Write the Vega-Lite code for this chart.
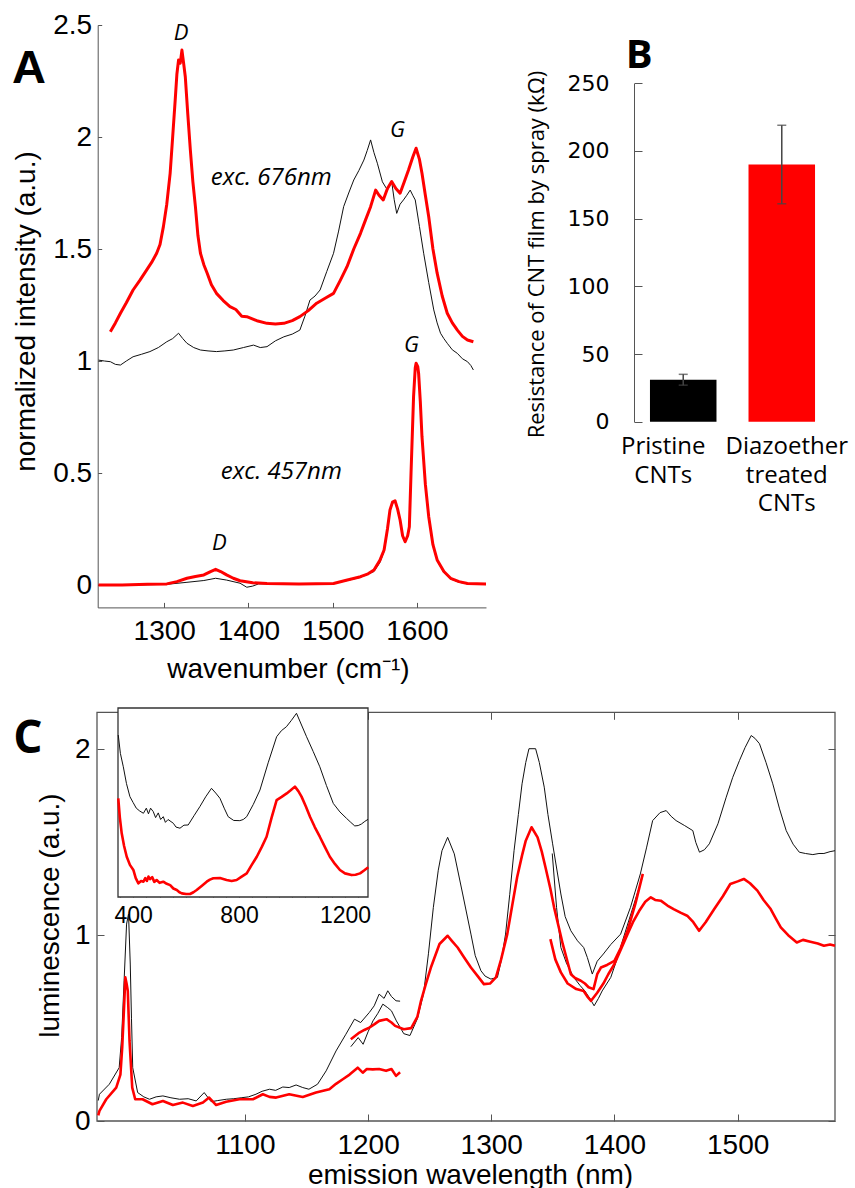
{
  "$schema": "https://vega.github.io/schema/vega-lite/v6.json",
  "width": 855,
  "height": 1188,
  "autosize": {"type": "none"},
  "padding": 0,
  "background": "white",
  "config": {
    "view": {"stroke": null},
    "axis": {"grid": false, "domainColor": "#555", "tickColor": "#555", "labelColor": "#000", "titleColor": "#000", "titleFontWeight": "normal", "labelFont": "Liberation Sans", "titleFont": "Liberation Sans", "labelOverlap": false, "labelFlush": false, "labelBound": false}
  },
  "datasets": {
    "ramanA": [
      {"wn":1236,"I":1.131,"c":"r","g":"676r"},{"wn":1242,"I":1.17,"c":"r","g":"676r"},{"wn":1248,"I":1.213,"c":"r","g":"676r"},{"wn":1255,"I":1.26,"c":"r","g":"676r"},{"wn":1263,"I":1.317,"c":"r","g":"676r"},{"wn":1271,"I":1.36,"c":"r","g":"676r"},{"wn":1279,"I":1.406,"c":"r","g":"676r"},{"wn":1285,"I":1.44,"c":"r","g":"676r"},{"wn":1291,"I":1.481,"c":"r","g":"676r"},{"wn":1295,"I":1.52,"c":"r","g":"676r"},{"wn":1299,"I":1.6,"c":"r","g":"676r"},{"wn":1303,"I":1.7,"c":"r","g":"676r"},{"wn":1307,"I":1.838,"c":"r","g":"676r"},{"wn":1310,"I":2.0,"c":"r","g":"676r"},{"wn":1313,"I":2.165,"c":"r","g":"676r"},{"wn":1315,"I":2.28,"c":"r","g":"676r"},{"wn":1317,"I":2.344,"c":"r","g":"676r"},{"wn":1319,"I":2.33,"c":"r","g":"676r"},{"wn":1321,"I":2.388,"c":"r","g":"676r"},{"wn":1323,"I":2.33,"c":"r","g":"676r"},{"wn":1325,"I":2.269,"c":"r","g":"676r"},{"wn":1328,"I":2.1,"c":"r","g":"676r"},{"wn":1331,"I":1.942,"c":"r","g":"676r"},{"wn":1334,"I":1.8,"c":"r","g":"676r"},{"wn":1337,"I":1.689,"c":"r","g":"676r"},{"wn":1340,"I":1.56,"c":"r","g":"676r"},{"wn":1343,"I":1.481,"c":"r","g":"676r"},{"wn":1347,"I":1.43,"c":"r","g":"676r"},{"wn":1351,"I":1.392,"c":"r","g":"676r"},{"wn":1356,"I":1.34,"c":"r","g":"676r"},{"wn":1362,"I":1.302,"c":"r","g":"676r"},{"wn":1370,"I":1.27,"c":"r","g":"676r"},{"wn":1378,"I":1.243,"c":"r","g":"676r"},{"wn":1385,"I":1.23,"c":"r","g":"676r"},{"wn":1392,"I":1.2,"c":"r","g":"676r"},{"wn":1398,"I":1.198,"c":"r","g":"676r"},{"wn":1410,"I":1.18,"c":"r","g":"676r"},{"wn":1422,"I":1.168,"c":"r","g":"676r"},{"wn":1432,"I":1.165,"c":"r","g":"676r"},{"wn":1442,"I":1.168,"c":"r","g":"676r"},{"wn":1452,"I":1.18,"c":"r","g":"676r"},{"wn":1461,"I":1.198,"c":"r","g":"676r"},{"wn":1471,"I":1.225,"c":"r","g":"676r"},{"wn":1481,"I":1.258,"c":"r","g":"676r"},{"wn":1491,"I":1.28,"c":"r","g":"676r"},{"wn":1501,"I":1.302,"c":"r","g":"676r"},{"wn":1509,"I":1.36,"c":"r","g":"676r"},{"wn":1517,"I":1.421,"c":"r","g":"676r"},{"wn":1525,"I":1.5,"c":"r","g":"676r"},{"wn":1533,"I":1.57,"c":"r","g":"676r"},{"wn":1539,"I":1.63,"c":"r","g":"676r"},{"wn":1545,"I":1.689,"c":"r","g":"676r"},{"wn":1551,"I":1.763,"c":"r","g":"676r"},{"wn":1555,"I":1.74,"c":"r","g":"676r"},{"wn":1560,"I":1.719,"c":"r","g":"676r"},{"wn":1565,"I":1.77,"c":"r","g":"676r"},{"wn":1570,"I":1.801,"c":"r","g":"676r"},{"wn":1575,"I":1.77,"c":"r","g":"676r"},{"wn":1580,"I":1.749,"c":"r","g":"676r"},{"wn":1585,"I":1.8,"c":"r","g":"676r"},{"wn":1590,"I":1.853,"c":"r","g":"676r"},{"wn":1595,"I":1.91,"c":"r","g":"676r"},{"wn":1599,"I":1.95,"c":"r","g":"676r"},{"wn":1603,"I":1.9,"c":"r","g":"676r"},{"wn":1606,"I":1.838,"c":"r","g":"676r"},{"wn":1610,"I":1.74,"c":"r","g":"676r"},{"wn":1614,"I":1.644,"c":"r","g":"676r"},{"wn":1619,"I":1.5,"c":"r","g":"676r"},{"wn":1624,"I":1.392,"c":"r","g":"676r"},{"wn":1630,"I":1.29,"c":"r","g":"676r"},{"wn":1636,"I":1.213,"c":"r","g":"676r"},{"wn":1642,"I":1.17,"c":"r","g":"676r"},{"wn":1648,"I":1.138,"c":"r","g":"676r"},{"wn":1654,"I":1.11,"c":"r","g":"676r"},{"wn":1660,"I":1.094,"c":"r","g":"676r"},{"wn":1667,"I":1.086,"c":"r","g":"676r"},
      {"wn":1222,"I":1.004,"c":"k","g":"676k"},{"wn":1229,"I":1.0,"c":"k","g":"676k"},{"wn":1236,"I":0.997,"c":"k","g":"676k"},{"wn":1242,"I":0.985,"c":"k","g":"676k"},{"wn":1248,"I":0.982,"c":"k","g":"676k"},{"wn":1255,"I":1.0,"c":"k","g":"676k"},{"wn":1263,"I":1.019,"c":"k","g":"676k"},{"wn":1273,"I":1.03,"c":"k","g":"676k"},{"wn":1283,"I":1.042,"c":"k","g":"676k"},{"wn":1293,"I":1.06,"c":"k","g":"676k"},{"wn":1303,"I":1.086,"c":"k","g":"676k"},{"wn":1310,"I":1.1,"c":"k","g":"676k"},{"wn":1317,"I":1.124,"c":"k","g":"676k"},{"wn":1322,"I":1.1,"c":"k","g":"676k"},{"wn":1327,"I":1.079,"c":"k","g":"676k"},{"wn":1335,"I":1.06,"c":"k","g":"676k"},{"wn":1343,"I":1.049,"c":"k","g":"676k"},{"wn":1352,"I":1.045,"c":"k","g":"676k"},{"wn":1362,"I":1.042,"c":"k","g":"676k"},{"wn":1372,"I":1.045,"c":"k","g":"676k"},{"wn":1382,"I":1.049,"c":"k","g":"676k"},{"wn":1394,"I":1.06,"c":"k","g":"676k"},{"wn":1406,"I":1.071,"c":"k","g":"676k"},{"wn":1414,"I":1.06,"c":"k","g":"676k"},{"wn":1422,"I":1.064,"c":"k","g":"676k"},{"wn":1432,"I":1.09,"c":"k","g":"676k"},{"wn":1442,"I":1.108,"c":"k","g":"676k"},{"wn":1452,"I":1.12,"c":"k","g":"676k"},{"wn":1461,"I":1.138,"c":"k","g":"676k"},{"wn":1467,"I":1.2,"c":"k","g":"676k"},{"wn":1473,"I":1.272,"c":"k","g":"676k"},{"wn":1479,"I":1.29,"c":"k","g":"676k"},{"wn":1485,"I":1.317,"c":"k","g":"676k"},{"wn":1493,"I":1.4,"c":"k","g":"676k"},{"wn":1501,"I":1.481,"c":"k","g":"676k"},{"wn":1507,"I":1.58,"c":"k","g":"676k"},{"wn":1513,"I":1.689,"c":"k","g":"676k"},{"wn":1519,"I":1.75,"c":"k","g":"676k"},{"wn":1525,"I":1.808,"c":"k","g":"676k"},{"wn":1531,"I":1.85,"c":"k","g":"676k"},{"wn":1537,"I":1.897,"c":"k","g":"676k"},{"wn":1541,"I":1.94,"c":"k","g":"676k"},{"wn":1545,"I":1.987,"c":"k","g":"676k"},{"wn":1549,"I":1.93,"c":"k","g":"676k"},{"wn":1553,"I":1.883,"c":"k","g":"676k"},{"wn":1559,"I":1.8,"c":"k","g":"676k"},{"wn":1565,"I":1.763,"c":"k","g":"676k"},{"wn":1570,"I":1.801,"c":"k","g":"676k"},{"wn":1573,"I":1.72,"c":"k","g":"676k"},{"wn":1576,"I":1.659,"c":"k","g":"676k"},{"wn":1580,"I":1.7,"c":"k","g":"676k"},{"wn":1584,"I":1.719,"c":"k","g":"676k"},{"wn":1588,"I":1.74,"c":"k","g":"676k"},{"wn":1592,"I":1.763,"c":"k","g":"676k"},{"wn":1595,"I":1.74,"c":"k","g":"676k"},{"wn":1598,"I":1.719,"c":"k","g":"676k"},{"wn":1603,"I":1.6,"c":"k","g":"676k"},{"wn":1608,"I":1.481,"c":"k","g":"676k"},{"wn":1614,"I":1.35,"c":"k","g":"676k"},{"wn":1620,"I":1.228,"c":"k","g":"676k"},{"wn":1624,"I":1.17,"c":"k","g":"676k"},{"wn":1628,"I":1.124,"c":"k","g":"676k"},{"wn":1632,"I":1.1,"c":"k","g":"676k"},{"wn":1636,"I":1.079,"c":"k","g":"676k"},{"wn":1642,"I":1.05,"c":"k","g":"676k"},{"wn":1648,"I":1.034,"c":"k","g":"676k"},{"wn":1654,"I":1.01,"c":"k","g":"676k"},{"wn":1660,"I":0.997,"c":"k","g":"676k"},{"wn":1664,"I":0.98,"c":"k","g":"676k"},{"wn":1667,"I":0.96,"c":"k","g":"676k"},
      {"wn":1222,"I":0.0,"c":"k","g":"457k"},{"wn":1260,"I":0.0,"c":"k","g":"457k"},{"wn":1303,"I":0.003,"c":"k","g":"457k"},{"wn":1327,"I":0.012,"c":"k","g":"457k"},{"wn":1347,"I":0.02,"c":"k","g":"457k"},{"wn":1361,"I":0.03,"c":"k","g":"457k"},{"wn":1374,"I":0.022,"c":"k","g":"457k"},{"wn":1390,"I":0.008,"c":"k","g":"457k"},{"wn":1398,"I":-0.01,"c":"k","g":"457k"},{"wn":1405,"I":-0.005,"c":"k","g":"457k"},{"wn":1412,"I":0.005,"c":"k","g":"457k"},{"wn":1422,"I":0.005,"c":"k","g":"457k"},{"wn":1460,"I":0.004,"c":"k","g":"457k"},{"wn":1501,"I":0.006,"c":"k","g":"457k"},{"wn":1515,"I":0.018,"c":"k","g":"457k"},{"wn":1533,"I":0.034,"c":"k","g":"457k"},{"wn":1549,"I":0.06,"c":"k","g":"457k"},{"wn":1556,"I":0.1,"c":"k","g":"457k"},{"wn":1561,"I":0.15,"c":"k","g":"457k"},{"wn":1565,"I":0.24,"c":"k","g":"457k"},{"wn":1568,"I":0.33,"c":"k","g":"457k"},{"wn":1571,"I":0.365,"c":"k","g":"457k"},{"wn":1574,"I":0.37,"c":"k","g":"457k"},{"wn":1577,"I":0.335,"c":"k","g":"457k"},{"wn":1580,"I":0.285,"c":"k","g":"457k"},{"wn":1583,"I":0.215,"c":"k","g":"457k"},{"wn":1586,"I":0.19,"c":"k","g":"457k"},{"wn":1589,"I":0.215,"c":"k","g":"457k"},{"wn":1591,"I":0.255,"c":"k","g":"457k"},{"wn":1593,"I":0.49,"c":"k","g":"457k"},{"wn":1596,"I":0.83,"c":"k","g":"457k"},{"wn":1598,"I":0.96,"c":"k","g":"457k"},{"wn":1599,"I":0.98,"c":"k","g":"457k"},{"wn":1601,"I":0.965,"c":"k","g":"457k"},{"wn":1602,"I":0.935,"c":"k","g":"457k"},{"wn":1604,"I":0.81,"c":"k","g":"457k"},{"wn":1606,"I":0.655,"c":"k","g":"457k"},{"wn":1610,"I":0.445,"c":"k","g":"457k"},{"wn":1614,"I":0.3,"c":"k","g":"457k"},{"wn":1619,"I":0.175,"c":"k","g":"457k"},{"wn":1624,"I":0.108,"c":"k","g":"457k"},{"wn":1632,"I":0.055,"c":"k","g":"457k"},{"wn":1640,"I":0.027,"c":"k","g":"457k"},{"wn":1650,"I":0.012,"c":"k","g":"457k"},{"wn":1660,"I":0.005,"c":"k","g":"457k"},{"wn":1682,"I":0.002,"c":"k","g":"457k"},
      {"wn":1222,"I":0.0,"c":"r","g":"457r"},{"wn":1250,"I":0.0,"c":"r","g":"457r"},{"wn":1280,"I":0.003,"c":"r","g":"457r"},{"wn":1303,"I":0.005,"c":"r","g":"457r"},{"wn":1315,"I":0.015,"c":"r","g":"457r"},{"wn":1327,"I":0.03,"c":"r","g":"457r"},{"wn":1337,"I":0.038,"c":"r","g":"457r"},{"wn":1347,"I":0.045,"c":"r","g":"457r"},{"wn":1355,"I":0.06,"c":"r","g":"457r"},{"wn":1361,"I":0.07,"c":"r","g":"457r"},{"wn":1367,"I":0.06,"c":"r","g":"457r"},{"wn":1374,"I":0.045,"c":"r","g":"457r"},{"wn":1382,"I":0.03,"c":"r","g":"457r"},{"wn":1390,"I":0.019,"c":"r","g":"457r"},{"wn":1405,"I":0.01,"c":"r","g":"457r"},{"wn":1422,"I":0.007,"c":"r","g":"457r"},{"wn":1460,"I":0.005,"c":"r","g":"457r"},{"wn":1501,"I":0.007,"c":"r","g":"457r"},{"wn":1515,"I":0.02,"c":"r","g":"457r"},{"wn":1533,"I":0.037,"c":"r","g":"457r"},{"wn":1542,"I":0.05,"c":"r","g":"457r"},{"wn":1549,"I":0.067,"c":"r","g":"457r"},{"wn":1556,"I":0.11,"c":"r","g":"457r"},{"wn":1561,"I":0.156,"c":"r","g":"457r"},{"wn":1565,"I":0.25,"c":"r","g":"457r"},{"wn":1568,"I":0.335,"c":"r","g":"457r"},{"wn":1571,"I":0.37,"c":"r","g":"457r"},{"wn":1574,"I":0.376,"c":"r","g":"457r"},{"wn":1577,"I":0.34,"c":"r","g":"457r"},{"wn":1580,"I":0.29,"c":"r","g":"457r"},{"wn":1583,"I":0.22,"c":"r","g":"457r"},{"wn":1586,"I":0.193,"c":"r","g":"457r"},{"wn":1589,"I":0.22,"c":"r","g":"457r"},{"wn":1591,"I":0.26,"c":"r","g":"457r"},{"wn":1593,"I":0.5,"c":"r","g":"457r"},{"wn":1596,"I":0.841,"c":"r","g":"457r"},{"wn":1598,"I":0.97,"c":"r","g":"457r"},{"wn":1599,"I":0.99,"c":"r","g":"457r"},{"wn":1601,"I":0.975,"c":"r","g":"457r"},{"wn":1602,"I":0.945,"c":"r","g":"457r"},{"wn":1604,"I":0.82,"c":"r","g":"457r"},{"wn":1606,"I":0.662,"c":"r","g":"457r"},{"wn":1610,"I":0.45,"c":"r","g":"457r"},{"wn":1614,"I":0.305,"c":"r","g":"457r"},{"wn":1619,"I":0.18,"c":"r","g":"457r"},{"wn":1624,"I":0.112,"c":"r","g":"457r"},{"wn":1632,"I":0.06,"c":"r","g":"457r"},{"wn":1640,"I":0.03,"c":"r","g":"457r"},{"wn":1650,"I":0.015,"c":"r","g":"457r"},{"wn":1660,"I":0.007,"c":"r","g":"457r"},{"wn":1682,"I":0.004,"c":"r","g":"457r"}
    ],
    "lum": [
      {"nm":981,"L":0.11,"c":"k","g":"k1"},{"nm":982,"L":0.144,"c":"k","g":"k1"},{"nm":990,"L":0.198,"c":"k","g":"k1"},{"nm":998,"L":0.287,"c":"k","g":"k1"},{"nm":1000,"L":0.45,"c":"k","g":"k1"},{"nm":1002,"L":0.755,"c":"k","g":"k1"},{"nm":1004,"L":1.06,"c":"k","g":"k1"},{"nm":1005.6,"L":1.114,"c":"k","g":"k1"},{"nm":1007,"L":0.845,"c":"k","g":"k1"},{"nm":1008,"L":0.55,"c":"k","g":"k1"},{"nm":1009,"L":0.287,"c":"k","g":"k1"},{"nm":1013,"L":0.153,"c":"k","g":"k1"},{"nm":1018,"L":0.13,"c":"k","g":"k1"},{"nm":1022.6,"L":0.117,"c":"k","g":"k1"},{"nm":1028,"L":0.13,"c":"k","g":"k1"},{"nm":1033.5,"L":0.135,"c":"k","g":"k1"},{"nm":1040,"L":0.125,"c":"k","g":"k1"},{"nm":1047,"L":0.117,"c":"k","g":"k1"},{"nm":1054,"L":0.12,"c":"k","g":"k1"},{"nm":1060.5,"L":0.108,"c":"k","g":"k1"},{"nm":1067,"L":0.153,"c":"k","g":"k1"},{"nm":1072.6,"L":0.104,"c":"k","g":"k1"},{"nm":1078,"L":0.11,"c":"k","g":"k1"},{"nm":1085,"L":0.117,"c":"k","g":"k1"},{"nm":1091,"L":0.12,"c":"k","g":"k1"},{"nm":1097,"L":0.125,"c":"k","g":"k1"},{"nm":1103,"L":0.13,"c":"k","g":"k1"},{"nm":1109,"L":0.144,"c":"k","g":"k1"},{"nm":1114,"L":0.16,"c":"k","g":"k1"},{"nm":1120,"L":0.171,"c":"k","g":"k1"},{"nm":1125,"L":0.165,"c":"k","g":"k1"},{"nm":1130.8,"L":0.183,"c":"k","g":"k1"},{"nm":1136,"L":0.18,"c":"k","g":"k1"},{"nm":1141.6,"L":0.194,"c":"k","g":"k1"},{"nm":1147,"L":0.18,"c":"k","g":"k1"},{"nm":1152,"L":0.171,"c":"k","g":"k1"},{"nm":1159,"L":0.198,"c":"k","g":"k1"},{"nm":1166,"L":0.27,"c":"k","g":"k1"},{"nm":1174,"L":0.377,"c":"k","g":"k1"},{"nm":1182,"L":0.467,"c":"k","g":"k1"},{"nm":1189,"L":0.548,"c":"k","g":"k1"},{"nm":1194,"L":0.53,"c":"k","g":"k1"},{"nm":1201,"L":0.584,"c":"k","g":"k1"},{"nm":1205,"L":0.62,"c":"k","g":"k1"},{"nm":1209,"L":0.683,"c":"k","g":"k1"},{"nm":1213,"L":0.66,"c":"k","g":"k1"},{"nm":1216,"L":0.701,"c":"k","g":"k1"},{"nm":1219,"L":0.67,"c":"k","g":"k1"},{"nm":1222.7,"L":0.647,"c":"k","g":"k1"},{"nm":1226,"L":0.645,"c":"k","g":"k1"},
      {"nm":1186,"L":0.4,"c":"k","g":"k2"},{"nm":1192,"L":0.449,"c":"k","g":"k2"},{"nm":1196,"L":0.413,"c":"k","g":"k2"},{"nm":1200,"L":0.48,"c":"k","g":"k2"},{"nm":1204,"L":0.539,"c":"k","g":"k2"},{"nm":1208,"L":0.58,"c":"k","g":"k2"},{"nm":1212,"L":0.629,"c":"k","g":"k2"},{"nm":1216,"L":0.61,"c":"k","g":"k2"},{"nm":1219,"L":0.593,"c":"k","g":"k2"},{"nm":1223,"L":0.539,"c":"k","g":"k2"},{"nm":1229,"L":0.47,"c":"k","g":"k2"},{"nm":1234,"L":0.46,"c":"k","g":"k2"},{"nm":1240,"L":0.55,"c":"k","g":"k2"},{"nm":1245,"L":0.683,"c":"k","g":"k2"},{"nm":1249,"L":0.9,"c":"k","g":"k2"},{"nm":1253,"L":1.15,"c":"k","g":"k2"},{"nm":1257,"L":1.35,"c":"k","g":"k2"},{"nm":1260,"L":1.455,"c":"k","g":"k2"},{"nm":1264.6,"L":1.527,"c":"k","g":"k2"},{"nm":1270,"L":1.438,"c":"k","g":"k2"},{"nm":1276.8,"L":1.222,"c":"k","g":"k2"},{"nm":1283.5,"L":1.006,"c":"k","g":"k2"},{"nm":1287,"L":0.89,"c":"k","g":"k2"},{"nm":1291.6,"L":0.809,"c":"k","g":"k2"},{"nm":1295,"L":0.78,"c":"k","g":"k2"},{"nm":1299.7,"L":0.764,"c":"k","g":"k2"},{"nm":1305,"L":0.773,"c":"k","g":"k2"},{"nm":1308,"L":0.86,"c":"k","g":"k2"},{"nm":1311.6,"L":1.006,"c":"k","g":"k2"},{"nm":1315,"L":1.22,"c":"k","g":"k2"},{"nm":1318.5,"L":1.455,"c":"k","g":"k2"},{"nm":1322,"L":1.65,"c":"k","g":"k2"},{"nm":1325,"L":1.815,"c":"k","g":"k2"},{"nm":1328,"L":1.93,"c":"k","g":"k2"},{"nm":1330.6,"L":2.004,"c":"k","g":"k2"},{"nm":1336,"L":2.004,"c":"k","g":"k2"},{"nm":1339,"L":1.93,"c":"k","g":"k2"},{"nm":1343,"L":1.797,"c":"k","g":"k2"},{"nm":1346,"L":1.65,"c":"k","g":"k2"},{"nm":1349.8,"L":1.492,"c":"k","g":"k2"},{"nm":1356.5,"L":1.222,"c":"k","g":"k2"},{"nm":1360,"L":1.1,"c":"k","g":"k2"},{"nm":1364.6,"L":1.024,"c":"k","g":"k2"},{"nm":1370,"L":0.97,"c":"k","g":"k2"},{"nm":1375,"L":0.934,"c":"k","g":"k2"},{"nm":1378,"L":0.88,"c":"k","g":"k2"},{"nm":1382,"L":0.791,"c":"k","g":"k2"},{"nm":1386,"L":0.86,"c":"k","g":"k2"},{"nm":1391,"L":0.899,"c":"k","g":"k2"},{"nm":1397,"L":0.95,"c":"k","g":"k2"},{"nm":1405,"L":1.006,"c":"k","g":"k2"},{"nm":1413,"L":1.15,"c":"k","g":"k2"},{"nm":1421,"L":1.33,"c":"k","g":"k2"},{"nm":1426,"L":1.47,"c":"k","g":"k2"},{"nm":1431,"L":1.617,"c":"k","g":"k2"},{"nm":1437,"L":1.66,"c":"k","g":"k2"},{"nm":1442,"L":1.671,"c":"k","g":"k2"},{"nm":1446,"L":1.64,"c":"k","g":"k2"},{"nm":1450,"L":1.617,"c":"k","g":"k2"},{"nm":1457,"L":1.59,"c":"k","g":"k2"},{"nm":1463.6,"L":1.563,"c":"k","g":"k2"},{"nm":1466,"L":1.5,"c":"k","g":"k2"},{"nm":1469,"L":1.447,"c":"k","g":"k2"},{"nm":1473,"L":1.46,"c":"k","g":"k2"},{"nm":1477,"L":1.492,"c":"k","g":"k2"},{"nm":1484,"L":1.6,"c":"k","g":"k2"},{"nm":1490.7,"L":1.743,"c":"k","g":"k2"},{"nm":1496,"L":1.85,"c":"k","g":"k2"},{"nm":1501.5,"L":1.941,"c":"k","g":"k2"},{"nm":1506,"L":2.01,"c":"k","g":"k2"},{"nm":1511,"L":2.075,"c":"k","g":"k2"},{"nm":1514,"L":2.06,"c":"k","g":"k2"},{"nm":1517.7,"L":2.031,"c":"k","g":"k2"},{"nm":1523,"L":1.93,"c":"k","g":"k2"},{"nm":1528.5,"L":1.815,"c":"k","g":"k2"},{"nm":1534,"L":1.68,"c":"k","g":"k2"},{"nm":1539.4,"L":1.563,"c":"k","g":"k2"},{"nm":1545,"L":1.49,"c":"k","g":"k2"},{"nm":1550,"L":1.447,"c":"k","g":"k2"},{"nm":1555,"L":1.44,"c":"k","g":"k2"},{"nm":1561,"L":1.434,"c":"k","g":"k2"},{"nm":1566,"L":1.44,"c":"k","g":"k2"},{"nm":1570,"L":1.44,"c":"k","g":"k2"},{"nm":1575,"L":1.45,"c":"k","g":"k2"},{"nm":1579,"L":1.455,"c":"k","g":"k2"},
      {"nm":1349.5,"L":1.44,"c":"k","g":"k3"},{"nm":1353,"L":1.15,"c":"k","g":"k3"},{"nm":1356.5,"L":0.934,"c":"k","g":"k3"},{"nm":1361,"L":0.85,"c":"k","g":"k3"},{"nm":1367,"L":0.773,"c":"k","g":"k3"},{"nm":1372,"L":0.73,"c":"k","g":"k3"},{"nm":1376,"L":0.7,"c":"k","g":"k3"},{"nm":1380,"L":0.66,"c":"k","g":"k3"},{"nm":1383.5,"L":0.62,"c":"k","g":"k3"},{"nm":1387,"L":0.66,"c":"k","g":"k3"},{"nm":1390,"L":0.7,"c":"k","g":"k3"},{"nm":1397,"L":0.773,"c":"k","g":"k3"},{"nm":1402,"L":0.87,"c":"k","g":"k3"},{"nm":1407,"L":0.98,"c":"k","g":"k3"},{"nm":1415,"L":1.15,"c":"k","g":"k3"},{"nm":1423,"L":1.32,"c":"k","g":"k3"},
      {"nm":981,"L":0.03,"c":"r","g":"r1"},{"nm":982,"L":0.054,"c":"r","g":"r1"},{"nm":987.5,"L":0.117,"c":"r","g":"r1"},{"nm":995.6,"L":0.18,"c":"r","g":"r1"},{"nm":999,"L":0.25,"c":"r","g":"r1"},{"nm":1000.5,"L":0.4,"c":"r","g":"r1"},{"nm":1002,"L":0.62,"c":"r","g":"r1"},{"nm":1003,"L":0.773,"c":"r","g":"r1"},{"nm":1004,"L":0.74,"c":"r","g":"r1"},{"nm":1005,"L":0.7,"c":"r","g":"r1"},{"nm":1006.4,"L":0.431,"c":"r","g":"r1"},{"nm":1008.6,"L":0.18,"c":"r","g":"r1"},{"nm":1011,"L":0.117,"c":"r","g":"r1"},{"nm":1017,"L":0.117,"c":"r","g":"r1"},{"nm":1025,"L":0.09,"c":"r","g":"r1"},{"nm":1033.5,"L":0.108,"c":"r","g":"r1"},{"nm":1041.6,"L":0.086,"c":"r","g":"r1"},{"nm":1049.7,"L":0.099,"c":"r","g":"r1"},{"nm":1057.8,"L":0.081,"c":"r","g":"r1"},{"nm":1066,"L":0.099,"c":"r","g":"r1"},{"nm":1071,"L":0.126,"c":"r","g":"r1"},{"nm":1076.7,"L":0.086,"c":"r","g":"r1"},{"nm":1084.8,"L":0.104,"c":"r","g":"r1"},{"nm":1095.6,"L":0.117,"c":"r","g":"r1"},{"nm":1106.5,"L":0.117,"c":"r","g":"r1"},{"nm":1114.6,"L":0.144,"c":"r","g":"r1"},{"nm":1120,"L":0.13,"c":"r","g":"r1"},{"nm":1125.4,"L":0.126,"c":"r","g":"r1"},{"nm":1136,"L":0.144,"c":"r","g":"r1"},{"nm":1147,"L":0.129,"c":"r","g":"r1"},{"nm":1157.8,"L":0.153,"c":"r","g":"r1"},{"nm":1168.6,"L":0.171,"c":"r","g":"r1"},{"nm":1174,"L":0.2,"c":"r","g":"r1"},{"nm":1179.5,"L":0.225,"c":"r","g":"r1"},{"nm":1185,"L":0.25,"c":"r","g":"r1"},{"nm":1191.6,"L":0.287,"c":"r","g":"r1"},{"nm":1195.7,"L":0.26,"c":"r","g":"r1"},{"nm":1199,"L":0.28,"c":"r","g":"r1"},{"nm":1203.8,"L":0.278,"c":"r","g":"r1"},{"nm":1209,"L":0.28,"c":"r","g":"r1"},{"nm":1214.6,"L":0.27,"c":"r","g":"r1"},{"nm":1219,"L":0.28,"c":"r","g":"r1"},{"nm":1222.7,"L":0.243,"c":"r","g":"r1"},{"nm":1226,"L":0.262,"c":"r","g":"r1"},
      {"nm":1186,"L":0.44,"c":"r","g":"r2"},{"nm":1193,"L":0.476,"c":"r","g":"r2"},{"nm":1197,"L":0.49,"c":"r","g":"r2"},{"nm":1201,"L":0.503,"c":"r","g":"r2"},{"nm":1205,"L":0.52,"c":"r","g":"r2"},{"nm":1209,"L":0.539,"c":"r","g":"r2"},{"nm":1215,"L":0.548,"c":"r","g":"r2"},{"nm":1219,"L":0.53,"c":"r","g":"r2"},{"nm":1222,"L":0.512,"c":"r","g":"r2"},{"nm":1229,"L":0.494,"c":"r","g":"r2"},{"nm":1235,"L":0.5,"c":"r","g":"r2"},{"nm":1240,"L":0.56,"c":"r","g":"r2"},{"nm":1243,"L":0.647,"c":"r","g":"r2"},{"nm":1247,"L":0.74,"c":"r","g":"r2"},{"nm":1251,"L":0.826,"c":"r","g":"r2"},{"nm":1258,"L":0.953,"c":"r","g":"r2"},{"nm":1264.6,"L":0.997,"c":"r","g":"r2"},{"nm":1268,"L":0.97,"c":"r","g":"r2"},{"nm":1272.7,"L":0.934,"c":"r","g":"r2"},{"nm":1278,"L":0.88,"c":"r","g":"r2"},{"nm":1283.5,"L":0.826,"c":"r","g":"r2"},{"nm":1289,"L":0.78,"c":"r","g":"r2"},{"nm":1294,"L":0.737,"c":"r","g":"r2"},{"nm":1299,"L":0.74,"c":"r","g":"r2"},{"nm":1303.8,"L":0.773,"c":"r","g":"r2"},{"nm":1308,"L":0.87,"c":"r","g":"r2"},{"nm":1313,"L":1.006,"c":"r","g":"r2"},{"nm":1317,"L":1.16,"c":"r","g":"r2"},{"nm":1321,"L":1.312,"c":"r","g":"r2"},{"nm":1325,"L":1.43,"c":"r","g":"r2"},{"nm":1328,"L":1.509,"c":"r","g":"r2"},{"nm":1332.7,"L":1.581,"c":"r","g":"r2"},{"nm":1337.6,"L":1.527,"c":"r","g":"r2"},{"nm":1341,"L":1.45,"c":"r","g":"r2"},{"nm":1344,"L":1.366,"c":"r","g":"r2"},{"nm":1348,"L":1.25,"c":"r","g":"r2"},{"nm":1351,"L":1.15,"c":"r","g":"r2"},{"nm":1358,"L":0.953,"c":"r","g":"r2"},{"nm":1364.6,"L":0.79,"c":"r","g":"r2"},{"nm":1368,"L":0.77,"c":"r","g":"r2"},{"nm":1372.7,"L":0.755,"c":"r","g":"r2"},{"nm":1376,"L":0.74,"c":"r","g":"r2"},{"nm":1379,"L":0.72,"c":"r","g":"r2"},{"nm":1383,"L":0.71,"c":"r","g":"r2"},{"nm":1386,"L":0.79,"c":"r","g":"r2"},{"nm":1389,"L":0.826,"c":"r","g":"r2"},{"nm":1394,"L":0.84,"c":"r","g":"r2"},{"nm":1400,"L":0.862,"c":"r","g":"r2"},{"nm":1405,"L":0.93,"c":"r","g":"r2"},{"nm":1410.6,"L":1.024,"c":"r","g":"r2"},{"nm":1417,"L":1.17,"c":"r","g":"r2"},{"nm":1423,"L":1.33,"c":"r","g":"r2"},
      {"nm":1348,"L":0.979,"c":"r","g":"r3"},{"nm":1352,"L":0.87,"c":"r","g":"r3"},{"nm":1356.5,"L":0.8,"c":"r","g":"r3"},{"nm":1362,"L":0.74,"c":"r","g":"r3"},{"nm":1369,"L":0.71,"c":"r","g":"r3"},{"nm":1375,"L":0.7,"c":"r","g":"r3"},{"nm":1378,"L":0.67,"c":"r","g":"r3"},{"nm":1381,"L":0.647,"c":"r","g":"r3"},{"nm":1386,"L":0.69,"c":"r","g":"r3"},{"nm":1391,"L":0.74,"c":"r","g":"r3"},{"nm":1395,"L":0.79,"c":"r","g":"r3"},{"nm":1400,"L":0.845,"c":"r","g":"r3"},{"nm":1405,"L":0.92,"c":"r","g":"r3"},{"nm":1410.6,"L":1.006,"c":"r","g":"r3"},{"nm":1415,"L":1.07,"c":"r","g":"r3"},{"nm":1420,"L":1.13,"c":"r","g":"r3"},{"nm":1425,"L":1.18,"c":"r","g":"r3"},{"nm":1429.5,"L":1.204,"c":"r","g":"r3"},{"nm":1433,"L":1.19,"c":"r","g":"r3"},{"nm":1437.6,"L":1.186,"c":"r","g":"r3"},{"nm":1443,"L":1.16,"c":"r","g":"r3"},{"nm":1448,"L":1.141,"c":"r","g":"r3"},{"nm":1454,"L":1.12,"c":"r","g":"r3"},{"nm":1459,"L":1.105,"c":"r","g":"r3"},{"nm":1464,"L":1.07,"c":"r","g":"r3"},{"nm":1468.7,"L":1.024,"c":"r","g":"r3"},{"nm":1474,"L":1.07,"c":"r","g":"r3"},{"nm":1481,"L":1.141,"c":"r","g":"r3"},{"nm":1488,"L":1.21,"c":"r","g":"r3"},{"nm":1494,"L":1.276,"c":"r","g":"r3"},{"nm":1500,"L":1.29,"c":"r","g":"r3"},{"nm":1505,"L":1.303,"c":"r","g":"r3"},{"nm":1510,"L":1.28,"c":"r","g":"r3"},{"nm":1516,"L":1.24,"c":"r","g":"r3"},{"nm":1521,"L":1.19,"c":"r","g":"r3"},{"nm":1526.8,"L":1.141,"c":"r","g":"r3"},{"nm":1531,"L":1.09,"c":"r","g":"r3"},{"nm":1535,"L":1.042,"c":"r","g":"r3"},{"nm":1541,"L":1.0,"c":"r","g":"r3"},{"nm":1548,"L":0.961,"c":"r","g":"r3"},{"nm":1553,"L":0.975,"c":"r","g":"r3"},{"nm":1559,"L":0.965,"c":"r","g":"r3"},{"nm":1565,"L":0.955,"c":"r","g":"r3"},{"nm":1570,"L":0.943,"c":"r","g":"r3"},{"nm":1575,"L":0.95,"c":"r","g":"r3"},{"nm":1579,"L":0.943,"c":"r","g":"r3"}
    ],
    "inset": [
      {"nm":344,"v":0.857,"c":"k"},{"nm":352,"v":0.76,"c":"k"},{"nm":363,"v":0.689,"c":"k"},{"nm":375,"v":0.6,"c":"k"},{"nm":388,"v":0.531,"c":"k"},{"nm":400,"v":0.5,"c":"k"},{"nm":412,"v":0.47,"c":"k"},{"nm":425,"v":0.455,"c":"k"},{"nm":439,"v":0.443,"c":"k"},{"nm":450,"v":0.47,"c":"k"},{"nm":458,"v":0.44,"c":"k"},{"nm":466,"v":0.47,"c":"k"},{"nm":476,"v":0.452,"c":"k"},{"nm":485,"v":0.42,"c":"k"},{"nm":495,"v":0.445,"c":"k"},{"nm":504,"v":0.41,"c":"k"},{"nm":514,"v":0.425,"c":"k"},{"nm":522,"v":0.395,"c":"k"},{"nm":532,"v":0.41,"c":"k"},{"nm":552,"v":0.39,"c":"k"},{"nm":562,"v":0.37,"c":"k"},{"nm":577,"v":0.364,"c":"k"},{"nm":592,"v":0.38,"c":"k"},{"nm":608,"v":0.381,"c":"k"},{"nm":630,"v":0.43,"c":"k"},{"nm":652,"v":0.478,"c":"k"},{"nm":674,"v":0.53,"c":"k"},{"nm":696,"v":0.575,"c":"k"},{"nm":712,"v":0.55,"c":"k"},{"nm":728,"v":0.522,"c":"k"},{"nm":744,"v":0.47,"c":"k"},{"nm":759,"v":0.425,"c":"k"},{"nm":780,"v":0.405,"c":"k"},{"nm":803,"v":0.404,"c":"k"},{"nm":816,"v":0.41,"c":"k"},{"nm":829,"v":0.425,"c":"k"},{"nm":854,"v":0.49,"c":"k"},{"nm":879,"v":0.566,"c":"k"},{"nm":910,"v":0.71,"c":"k"},{"nm":942,"v":0.848,"c":"k"},{"nm":960,"v":0.88,"c":"k"},{"nm":979,"v":0.901,"c":"k"},{"nm":998,"v":0.935,"c":"k"},{"nm":1017,"v":0.972,"c":"k"},{"nm":1036,"v":0.91,"c":"k"},{"nm":1055,"v":0.848,"c":"k"},{"nm":1080,"v":0.77,"c":"k"},{"nm":1105,"v":0.689,"c":"k"},{"nm":1130,"v":0.59,"c":"k"},{"nm":1156,"v":0.495,"c":"k"},{"nm":1181,"v":0.45,"c":"k"},{"nm":1206,"v":0.416,"c":"k"},{"nm":1222,"v":0.395,"c":"k"},{"nm":1237,"v":0.376,"c":"k"},{"nm":1250,"v":0.378,"c":"k"},{"nm":1262,"v":0.386,"c":"k"},{"nm":1275,"v":0.4,"c":"k"},{"nm":1287,"v":0.411,"c":"k"},
      {"nm":344,"v":0.522,"c":"r"},{"nm":350,"v":0.42,"c":"r"},{"nm":357,"v":0.337,"c":"r"},{"nm":366,"v":0.27,"c":"r"},{"nm":376,"v":0.213,"c":"r"},{"nm":388,"v":0.17,"c":"r"},{"nm":401,"v":0.143,"c":"r"},{"nm":410,"v":0.1,"c":"r"},{"nm":420,"v":0.072,"c":"r"},{"nm":430,"v":0.085,"c":"r"},{"nm":439,"v":0.081,"c":"r"},{"nm":446,"v":0.1,"c":"r"},{"nm":452,"v":0.085,"c":"r"},{"nm":458,"v":0.108,"c":"r"},{"nm":464,"v":0.095,"c":"r"},{"nm":472,"v":0.105,"c":"r"},{"nm":480,"v":0.08,"c":"r"},{"nm":489,"v":0.09,"c":"r"},{"nm":500,"v":0.075,"c":"r"},{"nm":514,"v":0.081,"c":"r"},{"nm":527,"v":0.07,"c":"r"},{"nm":540,"v":0.063,"c":"r"},{"nm":552,"v":0.045,"c":"r"},{"nm":565,"v":0.037,"c":"r"},{"nm":575,"v":0.025,"c":"r"},{"nm":584,"v":0.019,"c":"r"},{"nm":600,"v":0.016,"c":"r"},{"nm":615,"v":0.016,"c":"r"},{"nm":628,"v":0.025,"c":"r"},{"nm":640,"v":0.037,"c":"r"},{"nm":660,"v":0.06,"c":"r"},{"nm":678,"v":0.081,"c":"r"},{"nm":690,"v":0.092,"c":"r"},{"nm":703,"v":0.099,"c":"r"},{"nm":728,"v":0.1,"c":"r"},{"nm":753,"v":0.09,"c":"r"},{"nm":772,"v":0.085,"c":"r"},{"nm":791,"v":0.09,"c":"r"},{"nm":810,"v":0.108,"c":"r"},{"nm":829,"v":0.125,"c":"r"},{"nm":848,"v":0.17,"c":"r"},{"nm":867,"v":0.213,"c":"r"},{"nm":886,"v":0.265,"c":"r"},{"nm":904,"v":0.319,"c":"r"},{"nm":923,"v":0.42,"c":"r"},{"nm":942,"v":0.513,"c":"r"},{"nm":961,"v":0.53,"c":"r"},{"nm":980,"v":0.548,"c":"r"},{"nm":995,"v":0.565,"c":"r"},{"nm":1011,"v":0.584,"c":"r"},{"nm":1024,"v":0.56,"c":"r"},{"nm":1036,"v":0.531,"c":"r"},{"nm":1052,"v":0.48,"c":"r"},{"nm":1068,"v":0.425,"c":"r"},{"nm":1086,"v":0.37,"c":"r"},{"nm":1105,"v":0.319,"c":"r"},{"nm":1124,"v":0.265,"c":"r"},{"nm":1143,"v":0.213,"c":"r"},{"nm":1162,"v":0.175,"c":"r"},{"nm":1181,"v":0.143,"c":"r"},{"nm":1200,"v":0.125,"c":"r"},{"nm":1225,"v":0.116,"c":"r"},{"nm":1240,"v":0.118,"c":"r"},{"nm":1257,"v":0.125,"c":"r"},{"nm":1272,"v":0.14,"c":"r"},{"nm":1288,"v":0.157,"c":"r"}
    ]
  },
  "layer": [
    {
      "layer": [
        {
          "data": {"name": "ramanA"},
          "transform": [{"filter": "datum.c == 'k'"}],
          "mark": {"type": "line", "color": "#111", "strokeWidth": 1},
          "encoding": {
            "x": {"field": "wn", "type": "quantitative", "scale": {"domain": [1221, 1682], "range": [97.7, 486], "zero": false, "nice": false},
              "axis": {"orient": "bottom", "offset": -580.6, "values": [1300, 1400, 1500, 1600], "format": "d", "tickSize": -5, "labelPadding": 15, "labelFontSize": 28, "title": "wavenumber (cm⁻¹)", "titleFontSize": 28, "titleX": 288, "titleY": 70, "titleBaseline": "alphabetic", "titleAlign": "center"}},
            "y": {"field": "I", "type": "quantitative", "scale": {"domain": [-0.1, 2.5], "range": [607.4, 25], "zero": false, "nice": false},
              "axis": {"orient": "left", "offset": -97.7, "values": [0, 0.5, 1, 1.5, 2, 2.5], "format": "~g", "tickSize": -4, "labelPadding": 10, "labelFontSize": 28, "title": "normalized intensity (a.u.)", "titleFontSize": 28, "titleAngle": -90, "titleX": -62.7, "titleY": 311, "titleBaseline": "alphabetic", "titleAlign": "center"}},
            "detail": {"field": "g"}
          }
        },
        {
          "data": {"name": "ramanA"},
          "transform": [{"filter": "datum.c == 'r'"}],
          "mark": {"type": "line", "color": "#ff0000", "strokeWidth": 3, "strokeJoin": "round"},
          "encoding": {
            "x": {"field": "wn", "type": "quantitative"},
            "y": {"field": "I", "type": "quantitative"},
            "detail": {"field": "g"}
          }
        },
        {
          "data": {"values": [{"wn": 1320, "I": 2.464, "t": "D"}, {"wn": 1577, "I": 2.031, "t": "G"}, {"wn": 1593.5, "I": 1.071, "t": "G"}, {"wn": 1365.4, "I": 0.1875, "t": "D"}]},
          "mark": {"type": "text", "font": "Open Sans", "fontStyle": "italic", "fontSize": 22, "align": "center", "baseline": "middle", "color": "#000"},
          "encoding": {"x": {"field": "wn", "type": "quantitative"}, "y": {"field": "I", "type": "quantitative"}, "text": {"field": "t"}}
        },
        {
          "data": {"values": [{"wn": 1427, "I": 1.817, "t": "exc. 676nm"}, {"wn": 1439, "I": 0.506, "t": "exc. 457nm"}]},
          "mark": {"type": "text", "font": "Open Sans", "fontStyle": "italic", "fontSize": 24, "align": "center", "baseline": "middle", "color": "#000"},
          "encoding": {"x": {"field": "wn", "type": "quantitative"}, "y": {"field": "I", "type": "quantitative"}, "text": {"field": "t"}}
        },
        {
          "data": {"values": [{"wn": 1139.3, "I": 2.241, "t": "A"}]},
          "mark": {"type": "text", "font": "Liberation Sans", "fontWeight": "bold", "fontSize": 47, "align": "center", "baseline": "alphabetic", "color": "#000"},
          "encoding": {"x": {"field": "wn", "type": "quantitative"}, "y": {"field": "I", "type": "quantitative"}, "text": {"field": "t"}}
        }
      ]
    },
    {
      "data": {"values": [
        {"cat": "Pristine CNTs", "r": 31, "lo": 27, "hi": 35},
        {"cat": "Diazoether treated CNTs", "r": 190, "lo": 161, "hi": 219}
      ]},
      "layer": [
        {
          "mark": {"type": "bar"},
          "encoding": {
            "x": {"field": "cat", "type": "nominal", "sort": null, "scale": {"domain": ["Pristine CNTs", "Diazoether treated CNTs"], "range": [634, 831], "paddingInner": 0.325, "paddingOuter": 0.162},
              "axis": {"orient": "bottom", "offset": -766.3, "domain": false, "ticks": false, "labelAngle": 0, "labelPadding": 13, "labelFont": "Open Sans", "labelFontSize": 24, "labelLineHeight": 28.5, "labelBaseline": "top", "labelExpr": "split(datum.label, ' ')", "labelOffset": {"condition": {"test": "datum.value == 'Pristine CNTs'", "value": -20}, "value": 5}, "title": null}},
            "y": {"field": "r", "type": "quantitative", "scale": {"domain": [0, 250], "range": [421.7, 83.3], "nice": false},
              "axis": {"orient": "left", "offset": -634, "values": [0, 50, 100, 150, 200, 250], "format": "d", "tickSize": -8, "labelPadding": 33, "labelFont": "DejaVu Sans", "labelFontSize": 22, "title": "Resistance of CNT film by spray (kΩ)", "titleFont": "Open Sans", "titleFontSize": 22, "titleAngle": -90, "titleX": -91, "titleY": 254, "titleBaseline": "alphabetic", "titleAlign": "center"}},
            "color": {"field": "cat", "type": "nominal", "scale": {"domain": ["Pristine CNTs", "Diazoether treated CNTs"], "range": ["#000000", "#ff0000"]}, "legend": null}
          }
        },
        {
          "mark": {"type": "rule", "color": "#444", "strokeWidth": 1.5},
          "encoding": {
            "x": {"field": "cat", "type": "nominal", "sort": null},
            "y": {"field": "lo", "type": "quantitative"},
            "y2": {"field": "hi"}
          }
        },
        {
          "mark": {"type": "tick", "color": "#444", "thickness": 1.5, "size": 9},
          "encoding": {
            "x": {"field": "cat", "type": "nominal", "sort": null},
            "y": {"field": "hi", "type": "quantitative"}
          }
        },
        {
          "mark": {"type": "tick", "color": "#444", "thickness": 1.5, "size": 9},
          "encoding": {
            "x": {"field": "cat", "type": "nominal", "sort": null},
            "y": {"field": "lo", "type": "quantitative"}
          }
        },
        {
          "data": {"values": [{"cat": "Pristine CNTs", "r": 261.2, "t": "B"}]},
          "mark": {"type": "text", "font": "Open Sans", "fontWeight": "bold", "fontSize": 40, "align": "center", "baseline": "alphabetic", "dx": -44, "color": "#000"},
          "encoding": {
            "x": {"field": "cat", "type": "nominal", "sort": null},
            "y": {"field": "r", "type": "quantitative"},
            "text": {"field": "t"}
          }
        }
      ]
    },
    {
      "data": {"values": [{"x0": 980, "x1": 1579, "y0": 0, "y1": 2.2}]},
      "mark": {"type": "rect", "filled": false, "stroke": "#555", "strokeWidth": 1.3},
      "encoding": {
        "x": {"field": "x0", "type": "quantitative", "scale": {"domain": [980, 1579], "range": [97, 835], "zero": false, "nice": false},
          "axis": {"orient": "top", "offset": -712.3, "values": [1100, 1200, 1300, 1400, 1500], "domain": false, "labels": false, "tickSize": -7, "title": null}},
        "x2": {"field": "x1"},
        "y": {"field": "y0", "type": "quantitative", "scale": {"domain": [0, 2.2], "range": [1121, 712.3], "zero": false, "nice": false},
          "axis": {"orient": "right", "offset": -20, "values": [0, 1, 2], "domain": false, "labels": false, "tickSize": -7, "title": null}},
        "y2": {"field": "y1"}
      }
    },
    {
      "layer": [
        {
          "data": {"name": "lum"},
          "transform": [{"filter": "datum.c == 'k'"}],
          "mark": {"type": "line", "color": "#111", "strokeWidth": 1},
          "encoding": {
            "x": {"field": "nm", "type": "quantitative", "scale": {"domain": [980, 1579], "range": [97, 835], "zero": false, "nice": false},
              "axis": {"orient": "bottom", "offset": -67, "values": [1100, 1200, 1300, 1400, 1500], "format": "d", "domain": false, "tickSize": -7, "labelPadding": 17, "labelFontSize": 28, "title": "emission wavelength (nm)", "titleFontSize": 28, "titleX": 470, "titleY": 62, "titleBaseline": "alphabetic", "titleAlign": "center"}},
            "y": {"field": "L", "type": "quantitative", "scale": {"domain": [0, 2.2], "range": [1121, 712.3], "zero": false, "nice": false},
              "axis": {"orient": "left", "offset": -97, "values": [0, 1, 2], "format": "d", "domain": false, "tickSize": -7, "labelPadding": 14, "labelFontSize": 28, "title": "luminescence (a.u.)", "titleFontSize": 28, "titleAngle": -90, "titleX": -39, "titleY": 915, "titleBaseline": "alphabetic", "titleAlign": "center"}},
            "detail": {"field": "g"}
          }
        },
        {
          "data": {"name": "lum"},
          "transform": [{"filter": "datum.c == 'r'"}],
          "mark": {"type": "line", "color": "#ff0000", "strokeWidth": 2.6, "strokeJoin": "round"},
          "encoding": {
            "x": {"field": "nm", "type": "quantitative"},
            "y": {"field": "L", "type": "quantitative"},
            "detail": {"field": "g"}
          }
        },
        {
          "data": {"values": [{"nm": 924, "L": 1.979, "t": "C"}]},
          "mark": {"type": "text", "font": "Open Sans", "fontWeight": "bold", "fontSize": 46, "align": "center", "baseline": "alphabetic", "color": "#000"},
          "encoding": {"x": {"field": "nm", "type": "quantitative"}, "y": {"field": "L", "type": "quantitative"}, "text": {"field": "t"}}
        }
      ]
    },
    {
      "data": {"values": [{"x0": 343, "x1": 1287, "y0": 0, "y1": 1}]},
      "mark": {"type": "rect", "fill": "white", "stroke": "#333", "strokeWidth": 1.3},
      "encoding": {
        "x": {"field": "x0", "type": "quantitative", "scale": {"domain": [343, 1287], "range": [118, 368], "zero": false, "nice": false},
          "axis": {"orient": "top", "offset": -708, "values": [400, 800, 1200], "domain": false, "labels": false, "tickSize": -5, "title": null}},
        "x2": {"field": "x1"},
        "y": {"field": "y0", "type": "quantitative", "scale": {"domain": [0, 1], "range": [897, 708], "zero": false, "nice": false}, "axis": null},
        "y2": {"field": "y1"}
      }
    },
    {
      "layer": [
        {
          "data": {"name": "inset"},
          "transform": [{"filter": "datum.c == 'k'"}],
          "mark": {"type": "line", "color": "#111", "strokeWidth": 1},
          "encoding": {
            "x": {"field": "nm", "type": "quantitative", "scale": {"domain": [343, 1287], "range": [118, 368], "zero": false, "nice": false},
              "axis": {"orient": "bottom", "offset": -291, "values": [350, 400, 450, 500, 550, 600, 650, 700, 750, 800, 850, 900, 950, 1000, 1050, 1100, 1150, 1200, 1250], "format": "d", "domain": false, "tickSize": -4, "labelPadding": 11, "labelFontSize": 23, "labelExpr": "datum.value % 400 == 0 ? datum.label : ''", "title": null}},
            "y": {"field": "v", "type": "quantitative", "scale": {"domain": [0, 1], "range": [897, 708], "zero": false, "nice": false}, "axis": null}
          }
        },
        {
          "data": {"name": "inset"},
          "transform": [{"filter": "datum.c == 'r'"}],
          "mark": {"type": "line", "color": "#ff0000", "strokeWidth": 2.6, "strokeJoin": "round"},
          "encoding": {
            "x": {"field": "nm", "type": "quantitative"},
            "y": {"field": "v", "type": "quantitative"}
          }
        }
      ]
    }
  ],
  "resolve": {"scale": {"x": "independent", "y": "independent"}}
}
